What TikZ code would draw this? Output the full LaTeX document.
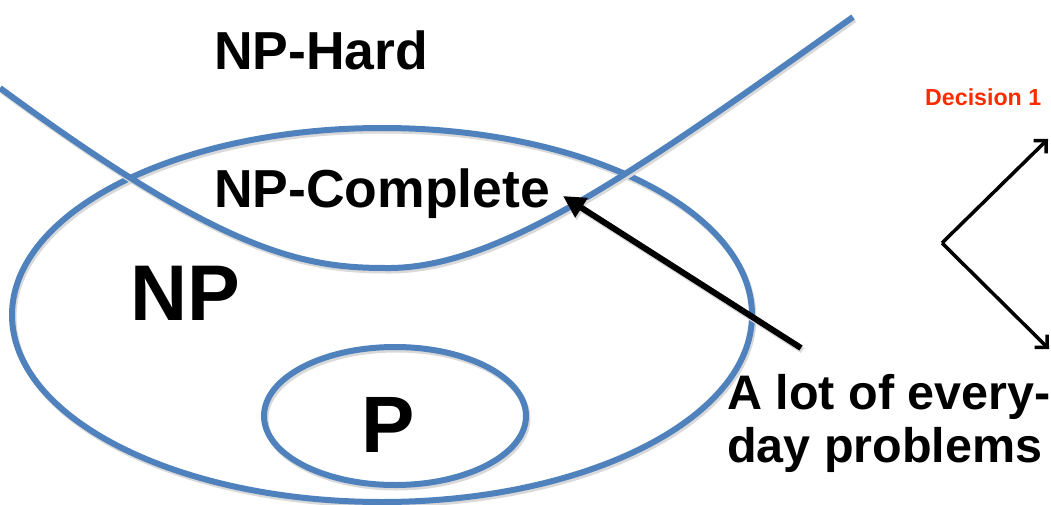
\documentclass[tikz,border=0pt]{standalone}
\usepackage{fontspec}
\setmainfont{Liberation Sans}
\usetikzlibrary{arrows.meta}
\definecolor{setblue}{HTML}{4F81BD}
\definecolor{decred}{HTML}{FF2A00}
\tikzset{
  softshadow/.style={preaction={draw=black!15, line width=#1,
      transform canvas={shift={(1.5pt,-2.5pt)}}}},
  setline/.style={draw=setblue, line width=6pt, softshadow=6pt},
  label/.style={inner sep=0pt, anchor=base west, font=\bfseries},
  pointer/.style={draw=black, line width=6pt, line cap=butt,
      -{Triangle[length=22pt,width=22pt]}},
  branch/.style={draw=black, line width=3.5pt,
      -{Straight Barb[length=9pt,width=18pt,line width=3.5pt]}}
}
\begin{document}
\begin{tikzpicture}[x=1pt,y=-1pt]
  \useasboundingbox (0,0) rectangle (1051,505);

  % class boundaries
  \path[setline] (382,315) ellipse [x radius=370, y radius=187];
  \path[setline] (395,416) ellipse [x radius=131, y radius=69];
  \path[setline] (0,88) .. controls (220,250) and (300,268) .. (385,268)
                        .. controls (500,270) and (640,168) .. (853,17);

  % labels of the classes
  \node[label, font=\bfseries\fontsize{53.5}{53.5}\selectfont] (hard) at (214,70) {NP-Hard};
  \node[label, font=\bfseries\fontsize{53.5}{53.5}\selectfont] (npc) at (214,207) {NP-Complete};
  \node[label, font=\bfseries\fontsize{79}{79}\selectfont] (np) at (130,320) {NP};
  \node[label, font=\bfseries\fontsize{80}{80}\selectfont] (p) at (361,452) {P};

  % note on everyday problems
  \node[label, font=\bfseries\fontsize{48.5}{48.5}\selectfont] (note1) at (727,409) {A lot of every-};
  \node[label, font=\bfseries\fontsize{48.5}{48.5}\selectfont] (note2) at (727,462) {day problems};
  \coordinate (ptail) at (801,348);
  \coordinate (ptip) at (563,196);
  \draw[pointer, softshadow=6pt] (ptail) -- (ptip);

  % decision branch
  \node[label, font=\bfseries\fontsize{23.2}{23.2}\selectfont, text=decred] (dec) at (925,106) {Decision 1};
  \coordinate (dv) at (942,243);
  \coordinate (d1) at (1048,139);
  \coordinate (d2) at (1049,349);
  \draw[branch] (dv) -- (d1);
  \draw[branch] (dv) -- (d2);
\end{tikzpicture}
\end{document}
